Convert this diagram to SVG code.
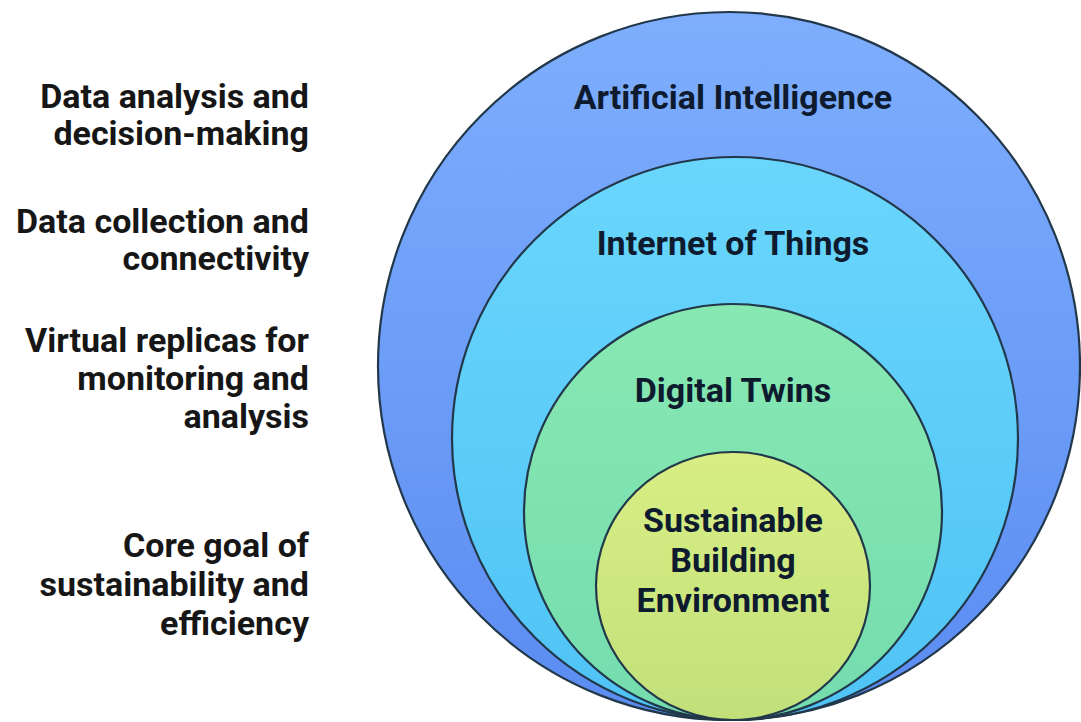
<svg xmlns="http://www.w3.org/2000/svg" width="1081" height="722" viewBox="0 0 1081 722">
  <defs>
    <linearGradient id="gAI" x1="0" y1="0" x2="0" y2="1">
      <stop offset="0" stop-color="#7eaefd"/>
      <stop offset="1" stop-color="#5a8cf2"/>
    </linearGradient>
    <linearGradient id="gIoT" x1="0" y1="0" x2="0" y2="1">
      <stop offset="0" stop-color="#6ad6fc"/>
      <stop offset="1" stop-color="#4fc3f5"/>
    </linearGradient>
    <linearGradient id="gDT" x1="0" y1="0" x2="0" y2="1">
      <stop offset="0" stop-color="#88e8b2"/>
      <stop offset="1" stop-color="#74dcae"/>
    </linearGradient>
    <linearGradient id="gSBE" x1="0" y1="0" x2="0" y2="1">
      <stop offset="0" stop-color="#d8ee84"/>
      <stop offset="1" stop-color="#c2e07a"/>
    </linearGradient>
  </defs>
  <style>
    .ring { stroke: #22384a; stroke-width: 2.2; }
    .lbl { font-family: Roboto, "Liberation Sans", sans-serif; font-weight: bold; font-size: 34px; fill: #0e1b2e; text-anchor: middle; }
    .side { font-family: Roboto, "Liberation Sans", sans-serif; font-weight: bold; font-size: 34px; fill: #161616; text-anchor: end; }
  </style>
  <rect width="1081" height="722" fill="#ffffff"/>

  <!-- nested layers, outermost first -->
  <g id="artificial-intelligence">
    <ellipse class="ring" cx="729" cy="366" rx="351" ry="354" fill="url(#gAI)"/>
    <text class="lbl" x="733" y="109">Artificial Intelligence</text>
  </g>
  <g id="internet-of-things">
    <ellipse class="ring" cx="735" cy="438.5" rx="283" ry="281.5" fill="url(#gIoT)"/>
    <text class="lbl" x="733" y="255">Internet of Things</text>
  </g>
  <g id="digital-twins">
    <ellipse class="ring" cx="733" cy="512" rx="209" ry="208" fill="url(#gDT)"/>
    <text class="lbl" x="733" y="402">Digital Twins</text>
  </g>
  <g id="sustainable-building-environment">
    <ellipse class="ring" cx="733" cy="586" rx="137" ry="134" fill="url(#gSBE)"/>
    <text class="lbl" x="733" y="532">Sustainable</text>
    <text class="lbl" x="733" y="572">Building</text>
    <text class="lbl" x="733" y="612">Environment</text>
  </g>

  <!-- descriptions on the left -->
  <g id="desc-ai">
    <text class="side" x="309" y="108">Data analysis and</text>
    <text class="side" x="309" y="145">decision-making</text>
  </g>
  <g id="desc-iot">
    <text class="side" x="309" y="233">Data collection and</text>
    <text class="side" x="309" y="270">connectivity</text>
  </g>
  <g id="desc-dt">
    <text class="side" x="309" y="352">Virtual replicas for</text>
    <text class="side" x="309" y="390">monitoring and</text>
    <text class="side" x="309" y="428">analysis</text>
  </g>
  <g id="desc-sbe">
    <text class="side" x="309" y="557">Core goal of</text>
    <text class="side" x="309" y="596">sustainability and</text>
    <text class="side" x="309" y="635">efficiency</text>
  </g>
  <g id="connectors"/>
</svg>
